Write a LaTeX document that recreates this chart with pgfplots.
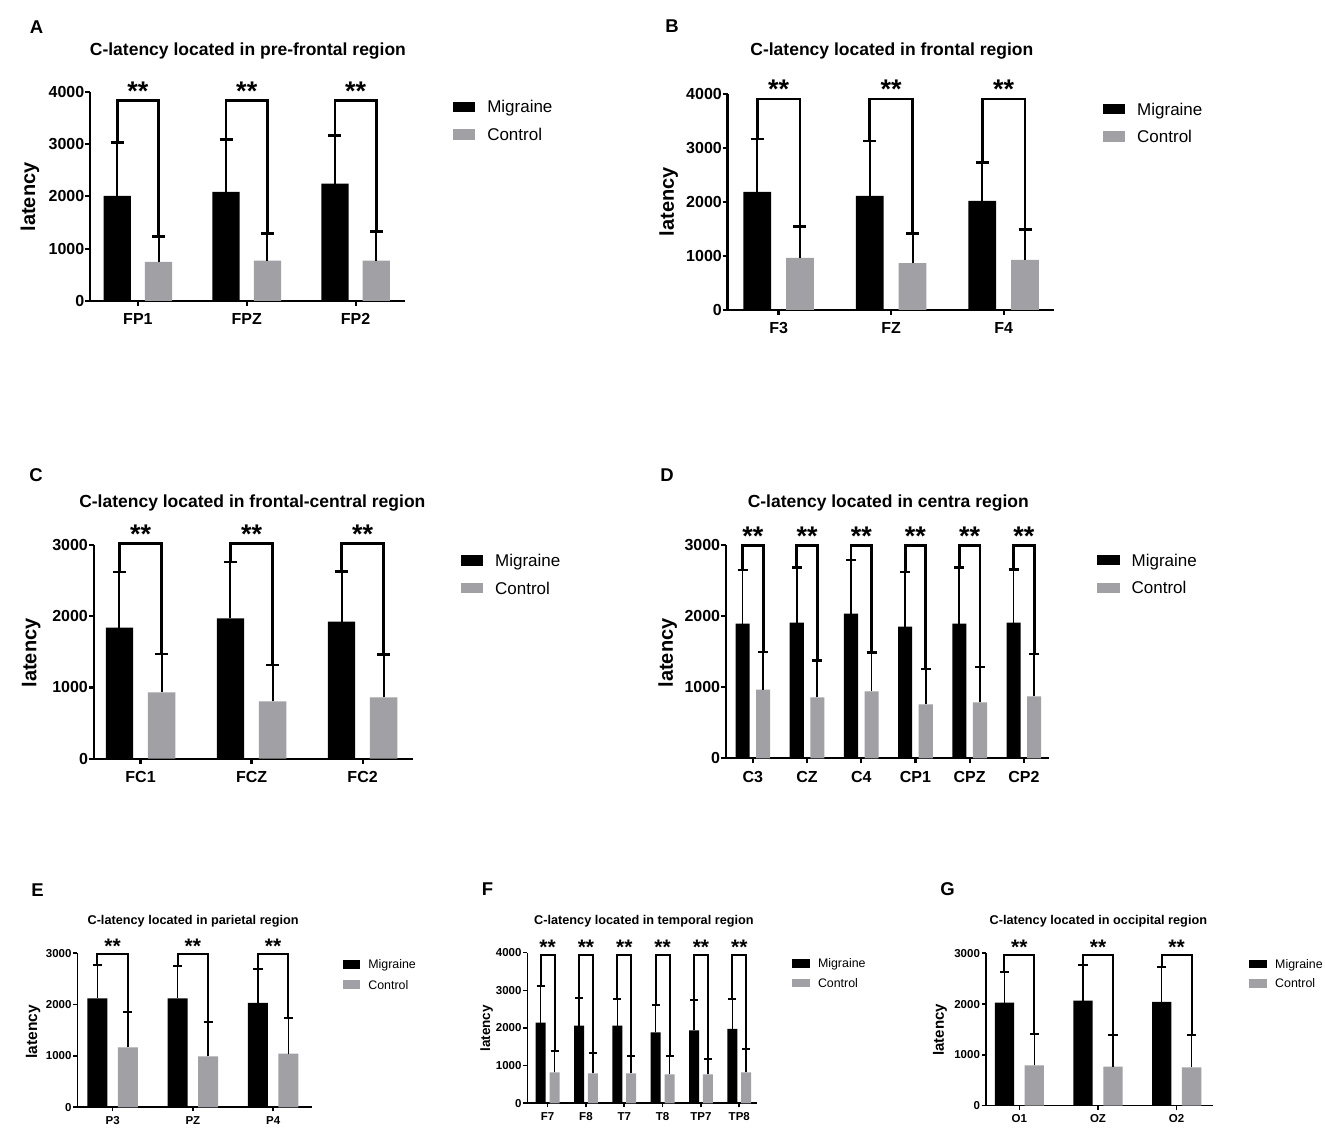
\documentclass[border=0pt]{standalone}
\usepackage{fontspec}
\setmainfont{Liberation Sans}
\usepackage{pgfplots}
\pgfplotsset{compat=1.18}
\definecolor{ctrl}{RGB}{160,160,165}
\newcommand{\fs}[1]{\fontsize{#1pt}{#1pt}\selectfont}

% bars: #1 colour, #2 bar width, #3 coordinates, #4 legend square
\newcommand{\bars}[4]{%
  \addplot[ybar, bar width=#2, bar shift=0pt, fill=#1, draw=none,
    legend image code/.code={\fill[#1] #4;}]
    coordinates {#3};
}
% error caps: #1 coordinates with errors, #2 line width, #3 cap half-width, #4 cap line width
\newcommand{\errs}[4]{%
  \addplot[forget plot, draw=none, mark=none,
    error bars/.cd, y dir=plus, y explicit,
    error bar style={draw=black, solid, line width=#2},
    error mark options={draw=black, solid, rotate=90, line width=#4, mark size=#3}]
    coordinates {#1};
}
% error stems (bar top to error top): #1 coordinates, #2 line width
\newcommand{\stems}[2]{%
  \addplot[forget plot, black, line width=#2, mark=none, unbounded coords=jump]
    coordinates {#1};
}
% bracket: #1 xl, #2 xr, #3 y left end, #4 top, #5 y right end, #6 line width, #7 star font, #8 centre x
\newcommand{\brk}[8]{%
  \addplot[black, line width=#6, line join=miter, forget plot]
    coordinates {(#1,#3) (#1,#4) (#2,#4) (#2,#5)};
  \node[anchor=south, inner sep=0pt, font=\bfseries\fs{#7}] at (axis cs:#8,#4) {**};
}

\pgfplotsset{
  base/.style={
    scale only axis, clip=false, ymin=0,
    axis x line=bottom, axis y line=left,
    axis line style={-, line width=#1, black},
    tick style={line width=#1, black},
    tick align=outside,
    /pgf/number format/assume math mode=true,
    /pgf/number format/1000 sep={},
    ylabel={latency},
    title style={anchor=center, yshift=0pt},
    ylabel style={anchor=center},
    legend cell align=left,
    legend style={draw=none, fill=none, inner sep=0pt, anchor=west},
  },
  toppanel/.style={
    base=2.2pt, major tick length=5pt,
    tick label style={font=\bfseries\fs{16}},
    yticklabel style={anchor=east, inner sep=0pt, xshift=-0.5pt},
    xticklabel style={anchor=north, inner sep=0pt, yshift=-7.5pt},
    ylabel style={font=\bfseries\fs{20}},
    title style={font=\bfseries\fs{17.5}},
    legend style={font=\fs{17}, row sep=15.3pt,
      nodes={inner xsep=12pt, inner ysep=0pt, text height=12.2pt, text depth=0pt}},
  },
  botpanel/.style={
    base=1.6pt, major tick length=4pt,
    tick label style={font=\bfseries\fs{11.5}},
    yticklabel style={anchor=east, inner sep=0pt, xshift=-1.6pt},
    xticklabel style={anchor=north, inner sep=0pt, yshift=-4.6pt},
    ylabel style={font=\bfseries\fs{15}},
    title style={font=\bfseries\fs{12.7}},
    legend style={font=\fs{12.4}, row sep=11.5pt,
      nodes={inner xsep=8pt, inner ysep=0pt, text height=8.9pt, text depth=0pt}},
  },
}

\begin{document}
\begin{tikzpicture}
\useasboundingbox (0pt,0pt) rectangle (1325pt,1131pt);

% ---------------- A ----------------
\begin{axis}[toppanel, at={(90pt,830pt)}, anchor=south west,
  width=314.6pt, height=209.3pt,
  xmin=-0.44, xmax=2.45, ymax=4000, ytick={0,1000,2000,3000,4000},
  xtick={0,1,2}, xticklabels={FP1,FPZ,FP2},
  title={C-latency located in pre-frontal region},
  title style={at={(axis description cs:0.502,1.166)}},
  ylabel style={at={(axis description cs:-0.191,0.497)}},
  legend style={at={(axis description cs:1.154,0.862)}}]
\bars{black}{0.25}{(-0.19,2010) (0.81,2086) (1.81,2245)}{(0pt,-5.2pt) rectangle (22pt,5.2pt)}
\addlegendentry{Migraine}
\bars{ctrl}{0.25}{(0.19,746) (1.19,771) (2.19,771)}{(0pt,-5.2pt) rectangle (22pt,5.2pt)}
\addlegendentry{Control}
\errs{(-0.19,2010) +- (0,1014) (0.81,2086) +- (0,1001) (1.81,2245) +- (0,919)}{2pt}{6.5pt}{2.6pt}
\errs{(0.19,746) +- (0,485) (1.19,771) +- (0,517) (2.19,771) +- (0,556)}{2pt}{6.5pt}{2.6pt}
\stems{(-0.19,2010) (-0.19,3024) (-0.19,nan) (0.81,2086) (0.81,3087) (0.81,nan) (1.81,2245) (1.81,3164)}{2pt}
\stems{(0.19,746) (0.19,1231) (0.19,nan) (1.19,771) (1.19,1288) (1.19,nan) (2.19,771) (2.19,1327)}{2pt}
\brk{-0.19}{0.19}{3024}{3830}{1231}{2.8pt}{27}{0}
\brk{0.81}{1.19}{3087}{3830}{1288}{2.8pt}{27}{1}
\brk{1.81}{2.19}{3164}{3830}{1327}{2.8pt}{27}{2}
\end{axis}

% ---------------- B ----------------
\begin{axis}[toppanel, at={(727.5pt,821pt)}, anchor=south west,
  width=326.8pt, height=216pt,
  xmin=-0.454, xmax=2.45, ymax=4000, ytick={0,1000,2000,3000,4000},
  xtick={0,1,2}, xticklabels={F3,FZ,F4},
  title={C-latency located in frontal region},
  title style={at={(axis description cs:0.503,1.17)}},
  ylabel style={at={(axis description cs:-0.18,0.501)}},
  legend style={at={(axis description cs:1.149,0.866)}}]
\bars{black}{0.246}{(-0.19,2185) (0.81,2111) (1.81,2019)}{(0pt,-5.3pt) rectangle (22pt,5.3pt)}
\addlegendentry{Migraine}
\bars{ctrl}{0.246}{(0.19,963) (1.19,870) (2.19,926)}{(0pt,-5.3pt) rectangle (22pt,5.3pt)}
\addlegendentry{Control}
\errs{(-0.19,2185) +- (0,982) (0.81,2111) +- (0,1019) (1.81,2019) +- (0,709)}{2pt}{6.5pt}{2.6pt}
\errs{(0.19,963) +- (0,580) (1.19,870) +- (0,543) (2.19,926) +- (0,562)}{2pt}{6.5pt}{2.6pt}
\stems{(-0.19,2185) (-0.19,3167) (-0.19,nan) (0.81,2111) (0.81,3130) (0.81,nan) (1.81,2019) (1.81,2728)}{2pt}
\stems{(0.19,963) (0.19,1543) (0.19,nan) (1.19,870) (1.19,1413) (1.19,nan) (2.19,926) (2.19,1488)}{2pt}
\brk{-0.19}{0.19}{3167}{3907}{1543}{2.8pt}{27}{0}
\brk{0.81}{1.19}{3130}{3907}{1413}{2.8pt}{27}{1}
\brk{1.81}{2.19}{2728}{3907}{1488}{2.8pt}{27}{2}
\end{axis}

% ---------------- C ----------------
\begin{axis}[toppanel, at={(93.6pt,372.3pt)}, anchor=south west,
  width=319.4pt, height=213.7pt,
  xmin=-0.423, xmax=2.454, ymax=3000, ytick={0,1000,2000,3000},
  xtick={0,1,2}, xticklabels={FC1,FCZ,FC2},
  title={C-latency located in frontal-central region},
  title style={at={(axis description cs:0.497,1.167)}},
  ylabel style={at={(axis description cs:-0.195,0.495)}},
  legend style={at={(axis description cs:1.150,0.863)}}]
\bars{black}{0.247}{(-0.19,1839) (0.81,1970) (1.81,1923)}{(0pt,-5.1pt) rectangle (22pt,5.1pt)}
\addlegendentry{Migraine}
\bars{ctrl}{0.247}{(0.19,931) (1.19,805) (2.19,861)}{(0pt,-5.1pt) rectangle (22pt,5.1pt)}
\addlegendentry{Control}
\errs{(-0.19,1839) +- (0,782) (0.81,1970) +- (0,791) (1.81,1923) +- (0,703)}{2pt}{6.5pt}{2.6pt}
\errs{(0.19,931) +- (0,539) (1.19,805) +- (0,510) (2.19,861) +- (0,599)}{2pt}{6.5pt}{2.6pt}
\stems{(-0.19,1839) (-0.19,2621) (-0.19,nan) (0.81,1970) (0.81,2761) (0.81,nan) (1.81,1923) (1.81,2626)}{2pt}
\stems{(0.19,931) (0.19,1470) (0.19,nan) (1.19,805) (1.19,1315) (1.19,nan) (2.19,861) (2.19,1460)}{2pt}
\brk{-0.19}{0.19}{2621}{3023}{1470}{2.8pt}{27}{0}
\brk{0.81}{1.19}{2761}{3023}{1315}{2.8pt}{27}{1}
\brk{1.81}{2.19}{2626}{3023}{1460}{2.8pt}{27}{2}
\end{axis}

% ---------------- D ----------------
\begin{axis}[toppanel, at={(725.8pt,372.7pt)}, anchor=south west,
  width=323pt, height=213.3pt,
  xmin=-0.499, xmax=5.46, ymax=3000, ytick={0,1000,2000,3000},
  xtick={0,1,2,3,4,5}, xticklabels={C3,CZ,C4,CP1,CPZ,CP2},
  title={C-latency located in centra region},
  title style={at={(axis description cs:0.503,1.167)}},
  ylabel style={at={(axis description cs:-0.18,0.494)}},
  legend style={at={(axis description cs:1.149,0.864)}}]
\bars{black}{0.26}{(-0.19,1894) (0.81,1908) (1.81,2034) (2.81,1852) (3.81,1894) (4.81,1908)}{(0pt,-5.1pt) rectangle (22.5pt,5.1pt)}
\addlegendentry{Migraine}
\bars{ctrl}{0.26}{(0.19,966) (1.19,858) (2.19,942) (3.19,759) (4.19,788) (5.19,872)}{(0pt,-5.1pt) rectangle (22.5pt,5.1pt)}
\addlegendentry{Control}
\errs{(-0.19,1894) +- (0,754) (0.81,1908) +- (0,773) (1.81,2034) +- (0,755) (2.81,1852) +- (0,764) (3.81,1894) +- (0,792) (4.81,1908) +- (0,745)}{1.8pt}{5pt}{2.4pt}
\errs{(0.19,966) +- (0,525) (1.19,858) +- (0,520) (2.19,942) +- (0,544) (3.19,759) +- (0,497) (4.19,788) +- (0,496) (5.19,872) +- (0,595)}{1.8pt}{5pt}{2.4pt}
\stems{(-0.19,1894) (-0.19,2648) (-0.19,nan) (0.81,1908) (0.81,2681) (0.81,nan) (1.81,2034) (1.81,2789) (1.81,nan) (2.81,1852) (2.81,2616) (2.81,nan) (3.81,1894) (3.81,2686) (3.81,nan) (4.81,1908) (4.81,2653)}{1.8pt}
\stems{(0.19,966) (0.19,1491) (0.19,nan) (1.19,858) (1.19,1378) (1.19,nan) (2.19,942) (2.19,1486) (2.19,nan) (3.19,759) (3.19,1256) (3.19,nan) (4.19,788) (4.19,1284) (4.19,nan) (5.19,872) (5.19,1467)}{1.8pt}
\brk{-0.19}{0.19}{2648}{2991}{1491}{2.8pt}{27}{0}
\brk{0.81}{1.19}{2681}{2991}{1378}{2.8pt}{27}{1}
\brk{1.81}{2.19}{2789}{2991}{1486}{2.8pt}{27}{2}
\brk{2.81}{3.19}{2616}{2991}{1256}{2.8pt}{27}{3}
\brk{3.81}{4.19}{2686}{2991}{1284}{2.8pt}{27}{4}
\brk{4.81}{5.19}{2653}{2991}{1467}{2.8pt}{27}{5}
\end{axis}

% ---------------- E ----------------
\begin{axis}[botpanel, at={(77.3pt,23.7pt)}, anchor=south west,
  width=234.4pt, height=154pt,
  xmin=-0.44, xmax=2.48, ymax=3000, ytick={0,1000,2000,3000},
  xtick={0,1,2}, xticklabels={P3,PZ,P4},
  title={C-latency located in parietal region},
  title style={at={(axis description cs:0.494,1.169)}},
  ylabel style={at={(axis description cs:-0.188,0.491)}, font=\bfseries\fs{15.5}},
  legend style={at={(axis description cs:1.134,0.861)}}]
\bars{black}{0.249}{(-0.19,2123) (0.81,2123) (1.81,2033)}{(0pt,-4.5pt) rectangle (17pt,4.5pt)}
\addlegendentry{Migraine}
\bars{ctrl}{0.249}{(0.19,1169) (1.19,994) (2.19,1045)}{(0pt,-4.5pt) rectangle (17pt,4.5pt)}
\addlegendentry{Control}
\errs{(-0.19,2123) +- (0,650) (0.81,2123) +- (0,630) (1.81,2033) +- (0,668)}{1.4pt}{4.6pt}{1.9pt}
\errs{(0.19,1169) +- (0,695) (1.19,994) +- (0,675) (2.19,1045) +- (0,702)}{1.4pt}{4.6pt}{1.9pt}
\stems{(-0.19,2123) (-0.19,2773) (-0.19,nan) (0.81,2123) (0.81,2753) (0.81,nan) (1.81,2033) (1.81,2701)}{1.4pt}
\stems{(0.19,1169) (0.19,1864) (0.19,nan) (1.19,994) (1.19,1669) (1.19,nan) (2.19,1045) (2.19,1747)}{1.4pt}
\brk{-0.19}{0.19}{2773}{2994}{1864}{2pt}{21}{0}
\brk{0.81}{1.19}{2753}{2994}{1669}{2pt}{21}{1}
\brk{1.81}{2.19}{2701}{2994}{1747}{2pt}{21}{2}
\end{axis}

% ---------------- F ----------------
\begin{axis}[botpanel, at={(527.3pt,27.7pt)}, anchor=south west,
  width=230pt, height=150.6pt,
  xmin=-0.53, xmax=5.47, ymax=4000, ytick={0,1000,2000,3000,4000},
  xtick={0,1,2,3,4,5}, xticklabels={F7,F8,T7,T8,TP7,TP8},
  title={C-latency located in temporal region},
  title style={at={(axis description cs:0.507,1.169)}},
  ylabel style={at={(axis description cs:-0.177,0.498)}, font=\bfseries\fs{13.5}},
  legend style={at={(axis description cs:1.15,0.863)}, row sep=11pt}]
\bars{black}{0.26}{(-0.18,2142) (0.82,2062) (1.82,2062) (2.82,1885) (3.82,1938) (4.82,1974)}{(0pt,-4.2pt) rectangle (18pt,4.2pt)}
\addlegendentry{Migraine}
\bars{ctrl}{0.26}{(0.18,823) (1.18,797) (2.18,797) (3.18,770) (4.18,770) (5.18,823)}{(0pt,-4.2pt) rectangle (18pt,4.2pt)}
\addlegendentry{Control}
\errs{(-0.18,2142) +- (0,973) (0.82,2062) +- (0,735) (1.82,2062) +- (0,708) (2.82,1885) +- (0,735) (3.82,1938) +- (0,797) (4.82,1974) +- (0,787)}{1.4pt}{4pt}{1.9pt}
\errs{(0.18,823) +- (0,566) (1.18,797) +- (0,539) (2.18,797) +- (0,469) (3.18,770) +- (0,496) (4.18,770) +- (0,416) (5.18,823) +- (0,620)}{1.4pt}{4pt}{1.9pt}
\stems{(-0.18,2142) (-0.18,3115) (-0.18,nan) (0.82,2062) (0.82,2797) (0.82,nan) (1.82,2062) (1.82,2770) (1.82,nan) (2.82,1885) (2.82,2620) (2.82,nan) (3.82,1938) (3.82,2735) (3.82,nan) (4.82,1974) (4.82,2761)}{1.4pt}
\stems{(0.18,823) (0.18,1389) (0.18,nan) (1.18,797) (1.18,1336) (1.18,nan) (2.18,797) (2.18,1266) (2.18,nan) (3.18,770) (3.18,1266) (3.18,nan) (4.18,770) (4.18,1186) (4.18,nan) (5.18,823) (5.18,1443)}{1.4pt}
\brk{-0.18}{0.18}{3115}{3947}{1389}{2pt}{21}{0}
\brk{0.82}{1.18}{2797}{3947}{1336}{2pt}{21}{1}
\brk{1.82}{2.18}{2770}{3947}{1266}{2pt}{21}{2}
\brk{2.82}{3.18}{2620}{3947}{1266}{2pt}{21}{3}
\brk{3.82}{4.18}{2735}{3947}{1186}{2pt}{21}{4}
\brk{4.82}{5.18}{2761}{3947}{1443}{2pt}{21}{5}
\end{axis}

% ---------------- G ----------------
\begin{axis}[botpanel, at={(985.7pt,25.3pt)}, anchor=south west,
  width=227.6pt, height=152.4pt,
  xmin=-0.428, xmax=2.466, ymax=3000, ytick={0,1000,2000,3000},
  xtick={0,1,2}, xticklabels={O1,OZ,O2},
  title={C-latency located in occipital region},
  title style={at={(axis description cs:0.495,1.171)}},
  ylabel style={at={(axis description cs:-0.201,0.497)}},
  legend style={at={(axis description cs:1.157,0.866)}, row sep=10.6pt}]
\bars{black}{0.246}{(-0.19,2028) (0.81,2068) (1.81,2042)}{(0pt,-4.2pt) rectangle (18pt,4.2pt)}
\addlegendentry{Migraine}
\bars{ctrl}{0.246}{(0.19,794) (1.19,768) (2.19,755)}{(0pt,-4.2pt) rectangle (18pt,4.2pt)}
\addlegendentry{Control}
\errs{(-0.19,2028) +- (0,611) (0.81,2068) +- (0,702) (1.81,2042) +- (0,682)}{1.4pt}{4.6pt}{1.9pt}
\errs{(0.19,794) +- (0,617) (1.19,768) +- (0,624) (2.19,755) +- (0,630)}{1.4pt}{4.6pt}{1.9pt}
\stems{(-0.19,2028) (-0.19,2639) (-0.19,nan) (0.81,2068) (0.81,2770) (0.81,nan) (1.81,2042) (1.81,2724)}{1.4pt}
\stems{(0.19,794) (0.19,1411) (0.19,nan) (1.19,768) (1.19,1392) (1.19,nan) (2.19,755) (2.19,1385)}{1.4pt}
\brk{-0.19}{0.19}{2639}{2967}{1411}{2pt}{21}{0}
\brk{0.81}{1.19}{2770}{2967}{1392}{2pt}{21}{1}
\brk{1.81}{2.19}{2724}{2967}{1385}{2pt}{21}{2}
\end{axis}

% panel letters
\node[font=\bfseries\fs{18.5}] at (36.6pt,1104pt) {A};
\node[font=\bfseries\fs{18.5}] at (672pt,1105pt) {B};
\node[font=\bfseries\fs{18.5}] at (36pt,656pt) {C};
\node[font=\bfseries\fs{18.5}] at (667pt,656pt) {D};
\node[font=\bfseries\fs{18.5}] at (37.5pt,241.3pt) {E};
\node[font=\bfseries\fs{18.5}] at (487.5pt,242pt) {F};
\node[font=\bfseries\fs{18.5}] at (947.5pt,242pt) {G};
\end{tikzpicture}
\end{document}
